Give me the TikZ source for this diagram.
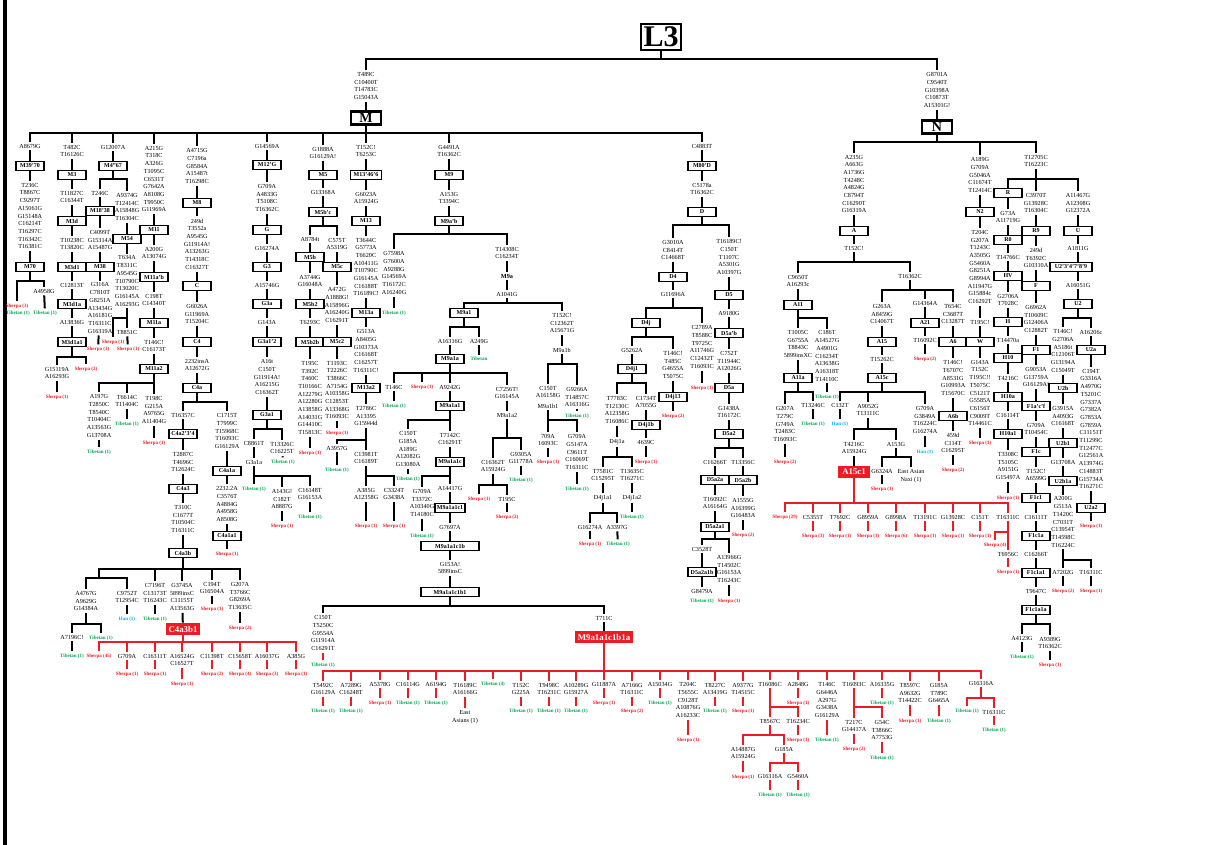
\documentclass[tikz,border=0pt]{standalone}
\usepackage{fontspec}
\setmainfont{Liberation Serif}
\usepackage{tikz}
\usepackage{xcolor}
\definecolor{sherpared}{HTML}{ED1C24}
\definecolor{tibgreen}{HTML}{00A651}
\definecolor{hanblue}{HTML}{00AEEF}
\definecolor{treered}{HTML}{ED1C24}
\tikzset{
  mut/.style={font=\fontsize{3.1}{3.85}\selectfont, align=center, inner sep=0.8pt},
  hg/.style={draw, line width=0.9pt, fill=white, font=\fontsize{3}{3.4}\selectfont\bfseries, minimum width=14pt, minimum height=4.5pt, inner sep=0.5pt},
  hgbig/.style={draw, line width=1.1pt, fill=white, font=\fontsize{7}{7}\selectfont\bfseries, minimum width=15pt, minimum height=6.5pt, inner sep=0.5pt},
  hgtop/.style={draw, line width=1.3pt, fill=white, font=\fontsize{15}{15}\selectfont\bfseries, minimum width=20pt, minimum height=13pt, inner sep=0.8pt},
  hgred/.style={draw=treered, line width=0.9pt, fill=treered, text=white, font=\fontsize{4.4}{4.6}\selectfont\bfseries, minimum width=15pt, minimum height=5.5pt, inner sep=0.6pt},
  pop/.style={font=\fontsize{2.5}{2.8}\selectfont\bfseries, inner sep=0.8pt},
  sherpa/.style={pop, text=sherpared},
  tibetan/.style={pop, text=tibgreen},
  han/.style={pop, text=hanblue},
  stem/.style={line width=1pt},
  rline/.style={draw=treered},
  rstem/.style={draw=treered, line width=1pt},
}
\begin{document}
\begin{tikzpicture}[x=0.5pt, y=-0.5pt, line width=0.7pt]
\useasboundingbox (0,0) rectangle (1215,845);
\draw[line width=1.8pt] (5,0) -- (5,845);

\node[hgtop] (L3) at (661,37) {L3};
\coordinate (bL3) at (0,59);
\node[mut] (mM) at (366,86) {T489C\\C10400T\\T14783C\\G15043A};
\node[hgbig] (M) at (366,118) {M};
\node[mut] (mN) at (937,90) {G8701A\\C9540T\\G10398A\\C10873T\\A15301G!};
\node[hgbig] (N) at (937,127) {N};
\foreach \ch in {mM,mN} \draw[stem] (L3) |- (\ch |- bL3) -- (\ch);
\draw (mM) -- (M);
\draw (mN) -- (N);

\coordinate (bM) at (0,133);
\node[mut] (m3970) at (30,146) {A8679G};
\node[hg] (M3970) at (30,166) {M39'70};
\node[mut] (m70) at (30,216) {T236C\\T8867C\\C9297T\\A15061G\\G15148A\\C16214T\\T16297C\\T16342C\\T16381C};
\node[hg] (M70) at (30,267) {M70};
\coordinate (bM70) at (0,281);
\node[sherpa] (s70) at (17,306) {Sherpa (3)};
\node[tibetan] (t70a) at (18,313) {Tibetan (1)};
\node[mut] (m70b) at (44,291) {A4958G};
\node[tibetan] (t70b) at (45,313) {Tibetan (1)};

\node[mut] (m3) at (72,151) {T482C\\T16126C};
\node[hg] (M3) at (72,175) {M3};
\node[mut] (m3d) at (72,197) {T11827C\\C16344T};
\node[hg] (M3d) at (72,221) {M3d};
\node[mut] (m3d1) at (72,244) {T10238C\\T13820C};
\node[hg] (M3d1) at (72,267) {M3d1};
\node[mut] (m3d1a) at (72,285) {C12813T};
\node[hg] (M3d1a) at (72,304) {M3d1a};
\node[mut] (m3d1a1) at (72,322) {A13836G};
\node[hg] (M3d1a1) at (72,342) {M3d1a1};
\coordinate (bM3d1a1) at (0,357);
\node[mut] (m3d1a1a) at (57,373) {G15119A\\A16293G};
\node[sherpa] (s3d1a1a) at (57,397) {Sherpa (1)};
\node[sherpa] (s3d1a1b) at (86,369) {Sherpa (2)};

\node[mut] (m467) at (113,147) {G12007A};
\node[hg] (M467) at (113,166) {M4"67};
\coordinate (bM467) at (0,179);
\node[mut] (m1838) at (100,193) {T246C};
\node[hg] (M1838) at (100,211) {M18'38};
\node[mut] (m38) at (100,240) {C4099T\\G15314A\\A15487G};
\node[hg] (M38) at (100,267) {M38};
\node[mut] (m38b) at (100,308) {G316A\\C7810T\\G8251A\\A13434G\\A16181G\\T16311C\\G16319A};
\node[sherpa] (s38) at (98,349) {Sherpa (1)};
\node[mut] (m54) at (127,207) {A9374G\\T12414C\\A15848G\\T16304C};
\node[hg] (M54) at (127,239) {M54};
\node[mut] (m54b) at (127,281) {T634A\\T8311C\\A9545G\\T10790C\\T13020C\\G16145A\\A16293G};
\coordinate (bM54) at (0,318);
\node[sherpa] (s54a) at (113,342) {Sherpa (1)};
\node[mut] (m54c) at (127,332) {T8851C};
\node[sherpa] (s54b) at (128,349) {Sherpa (1)};

\node[mut] (m11) at (154,179) {A215G\\T318C\\A326G\\T1095C\\C6531T\\G7642A\\A8108G\\T9950C\\G11969A};
\node[hg] (M11) at (154,230) {M11};
\node[mut] (m11ab) at (154,253) {A200G\\A13074G};
\node[hg] (M11ab) at (154,277) {M11a'b};
\node[mut] (m11a) at (154,300) {C198T\\C14340T};
\node[hg] (M11a) at (154,323) {M11a};
\node[mut] (m11a2) at (154,346) {T146C!\\C16173T};
\node[hg] (M11a2) at (154,369) {M11a2};
\coordinate (bM11a2) at (0,383);
\node[mut] (m11x) at (99,416) {A197G\\T2850C\\T8540C\\T10404C\\A13563G\\G13708A};
\node[tibetan] (t11x) at (99,452) {Tibetan (1)};
\node[mut] (m11y) at (127,401) {T6614C\\T11404C};
\node[tibetan] (t11y) at (127,424) {Tibetan (1)};
\node[mut] (m11z) at (154,410) {T198C\\G215A\\A9765G\\A11404G};
\node[sherpa] (s11z) at (154,443) {Sherpa (1)};

\node[mut] (m8) at (197,166) {A4715G\\C7196a\\G8584A\\A15487t\\T16298C};
\node[hg] (M8) at (197,203) {M8};
\node[mut] (mC) at (197,244) {249d\\T3552a\\A9545G\\G11914A!\\A13263G\\T14318C\\C16327T};
\node[hg] (C) at (197,286) {C};
\node[mut] (mC4) at (197,314) {G6026A\\G11969A\\T15204C};
\node[hg] (C4) at (197,342) {C4};
\node[mut] (mC4a) at (197,365) {2232insA\\A12672G};
\node[hg] (C4a) at (197,388) {C4a};
\coordinate (bC4a) at (0,402);
\node[mut] (mC4a2) at (183,415) {T16357C};
\node[hg] (C4a234) at (183,434) {C4a2'3'4};
\node[mut] (mC4a3) at (183,462) {T2887C\\T4696C\\T12624C};
\node[hg] (C4a3) at (183,489) {C4a3};
\node[mut] (mC4a3b) at (183,519) {T310C\\C1677T\\T10504C\\T16311C};
\node[hg] (C4a3b) at (183,553) {C4a3b};
\node[mut] (mC4a1a) at (227,431) {C1715T\\T7999C\\T15968C\\T16093C\\G16129A};
\node[hg] (C4a1a) at (227,471) {C4a1a};
\node[mut] (mC4a1a1) at (227,504) {2232.2A\\C3576T\\A4884G\\A4958G\\A8508G};
\node[hg] (C4a1a1) at (227,536) {C4a1a1};
\node[sherpa] (sC4a1a1) at (227,554) {Sherpa (1)};

\coordinate (bC4a3b) at (0,569);
\coordinate (kC4a3b) at (99,578);
\node[mut] (mA4767) at (86,601) {A4767G\\A9629G\\G14384A};
\node[mut] (mC9752) at (127,597) {C9752T\\T12954C};
\node[han] (hC9752) at (127,619) {Han (1)};
\node[mut] (mC7196) at (155,593) {C7196T\\C13173T\\T16243C};
\node[tibetan] (tC7196) at (155,619) {Tibetan (1)};
\node[mut] (mG3745) at (182,597) {G3745A\\5899insC\\C11155T\\A13563G};
\node[hgred] (C4a3b1) at (183,629) {C4a3b1};
\node[mut] (mC194) at (212,588) {C194T\\G16504A};
\node[sherpa] (sC194) at (212,609) {Sherpa (1)};
\node[mut] (mG207) at (240,596) {G207A\\T3766C\\G8269A\\T13635C};
\node[sherpa] (sG207) at (240,628) {Sherpa (2)};
\coordinate (bA4767) at (0,624);
\node[mut] (mA7196) at (72,637) {A7196C!};
\node[tibetan] (tA7196) at (72,656) {Tibetan (1)};
\node[tibetan] (tA4767) at (101,638) {Tibetan (1)};

\coordinate (bC4a3b1) at (0,642);
\node[sherpa] (cr1) at (99,656) {Sherpa (45)};
\node[mut] (cr2) at (127,656) {G709A};
\node[sherpa] (crs2) at (127,674) {Sherpa (1)};
\node[mut] (cr3) at (155,656) {C16311T};
\node[sherpa] (crs3) at (155,674) {Sherpa (1)};
\node[mut] (cr4) at (182,660) {A16524G\\C16527T};
\node[sherpa] (crs4) at (182,684) {Sherpa (1)};
\node[mut] (cr5) at (212,656) {C11398T};
\node[sherpa] (crs5) at (212,674) {Sherpa (2)};
\node[mut] (cr6) at (240,656) {C15658T};
\node[sherpa] (crs6) at (240,674) {Sherpa (4)};
\node[mut] (cr7) at (267,656) {A16037G};
\node[sherpa] (crs7) at (267,674) {Sherpa (3)};
\node[mut] (cr8) at (296,656) {A385G};
\node[sherpa] (crs8) at (296,674) {Sherpa (1)};

\node[mut] (mM12G) at (267,146) {G14569A};
\node[hg] (M12G) at (267,165) {M12'G};
\node[mut] (mG) at (267,198) {G709A\\A4833G\\T5108C\\T16362C};
\node[hg] (G) at (267,230) {G};
\node[mut] (mG3) at (267,248) {G16274A};
\node[hg] (G3) at (267,267) {G3};
\node[mut] (mG3a) at (267,285) {A15746G};
\node[hg] (G3a) at (267,304) {G3a};
\node[mut] (mG3a12) at (267,322) {G143A};
\node[hg] (G3a12) at (267,342) {G3a1'2};
\node[mut] (mG3a1) at (267,377) {A16t\\C150T\\G11914A!\\A16215G\\C16362T};
\node[hg] (G3a1) at (267,415) {G3a1};
\coordinate (bG3a1) at (0,429);
\node[mut] (mC8861) at (254,443) {C8861T};
\node[mut] (G3a1a) at (254,462) {G3a1a};
\node[mut] (mT13326) at (282,448) {T13326C\\C16225T};
\node[tibetan] (tT13326) at (283,462) {Tibetan (1)};
\coordinate (bG3a1a) at (0,476);
\node[tibetan] (tG3a1a) at (254,489) {Tibetan (1)};
\node[mut] (mA143) at (282,499) {A143G!\\C182T\\A8887G};
\node[sherpa] (sA143) at (282,526) {Sherpa (1)};
\node[mut] (mC16148) at (310,494) {C16148T\\G16153A};
\node[tibetan] (tC16148) at (310,517) {Tibetan (1)};

\node[mut] (mM5) at (323,153) {G1888A\\G16129A!};
\node[hg] (M5) at (323,175) {M5};
\node[mut] (mM5bc) at (323,192) {G13368A};
\node[hg] (M5bc) at (323,212) {M5b'c};
\coordinate (bM5bc) at (0,226);
\node[mut] (mM5b) at (310,239) {A8784t};
\node[hg] (M5b) at (310,257) {M5b};
\node[mut] (mM5b2) at (310,281) {A3744G\\G16048A};
\node[hg] (M5b2) at (310,304) {M5b2};
\node[mut] (mM5b2b) at (310,322) {T6293C};
\node[hg] (M5b2b) at (310,342) {M5b2b};
\node[mut] (mM5b2bx) at (310,398) {T195C\\T392C\\T460C\\T10166C\\A12279G\\A12280G\\A13858G\\A14031G\\G14410C\\T15813C};
\node[sherpa] (sM5b2b) at (310,453) {Sherpa (1)};
\node[mut] (mM5c) at (337,244) {C575T\\A5319G};
\node[hg] (M5c) at (337,267) {M5c};
\node[mut] (mM5c2) at (337,305) {A472G\\A1888G!\\A15896G\\A16240G\\C16291T};
\node[hg] (M5c2) at (337,342) {M5c2};
\node[mut] (mM5c2x) at (337,390) {T1193C\\T2226C\\T3866C\\A7154G\\A10358G\\C12853T\\A13368G\\T16093C};
\node[sherpa] (sM5c2) at (337,433) {Sherpa (1)};

\node[mut] (mM13) at (366,151) {T152C!\\T6253C};
\node[hg, minimum width=15.5pt] (M13466) at (366,175) {M13'46'6};
\node[mut] (mM13b) at (366,198) {G6023A\\A15924G};
\node[hg] (M13) at (366,221) {M13};
\node[mut] (mM13a) at (366,267) {T3644C\\G5773A\\T6620C\\A10411G\\T10790C\\G16145A\\C16188T\\T16189C!};
\node[hg] (M13a) at (366,313) {M13a};
\node[mut] (mM13a2) at (366,351) {G513A\\A8405G\\G10373A\\C16168T\\C16257T\\T16311C!};
\node[hg] (M13a2) at (366,388) {M13a2};
\node[mut] (mM13a2x) at (366,416) {T2786C\\A13395\\G15944d};
\coordinate (bM13a2) at (0,440);
\node[mut] (mA3957) at (337,448) {A3957G};
\node[tibetan] (tA3957) at (337,470) {Tibetan (1)};
\node[mut] (mC13981) at (366,458) {C13981T\\C16189T};
\coordinate (bC13981) at (0,476);
\node[mut] (mA385) at (366,494) {A385G\\A12358G};
\node[sherpa] (sA385) at (366,526) {Sherpa (1)};
\node[mut] (mC3324) at (394,494) {C3324T\\G3438A};
\node[sherpa] (sC3324) at (394,526) {Sherpa (1)};

\node[mut] (mM9) at (449,151) {G4491A\\T16362C};
\node[hg] (M9) at (449,175) {M9};
\node[mut] (mM9ab) at (449,198) {A153G\\T3394C};
\node[hg] (M9ab) at (449,221) {M9a'b};
\coordinate (bM9ab) at (0,234);
\node[mut] (mG7598) at (394,273) {G7598A\\G7600A\\A9288G\\G14569A\\T16172C\\A16240G};
\node[tibetan] (tG7598) at (394,313) {Tibetan (1)};
\node[mut] (mT14308) at (507,253) {T14308C\\C16234T};
\node[mut] (M9a) at (507,276) {\bfseries M9a};
\node[mut] (mA1041) at (507,294) {A1041G};
\coordinate (bM9a) at (0,303);
\node[hg] (M9a1) at (464,313) {M9a1};
\node[mut] (mT152b) at (562,323) {T152C!\\C12362T\\A15671G};
\coordinate (bM9a1) at (0,327);
\node[mut] (mA16316) at (450,341) {A16316G};
\node[mut] (mA249) at (479,341) {A249G};
\node[tibetan] (tA249) at (479,359) {Tibetan};
\node[hg] (M9a1a) at (450,359) {M9a1a};
\coordinate (bM9a1a) at (0,373);
\node[mut] (mT146m) at (394,387) {T146C};
\node[tibetan] (tT146m) at (394,406) {Tibetan (1)};
\node[sherpa] (sM9a1a) at (422,387) {Sherpa (1)};
\node[mut] (mA9242) at (450,387) {A9242G};
\node[mut] (mC7256) at (507,393) {C7256T!\\G16145A};
\node[hg] (M9a1a1) at (450,406) {M9a1a1};
\coordinate (bM9a1a1) at (0,420);
\node[mut] (mC150m) at (408,449) {C150T\\G185A\\A189G\\A12082G\\G13080A};
\node[tibetan] (tC150m) at (408,479) {Tibetan (1)};
\node[mut] (mT7142) at (450,439) {T7142C\\C16291T};
\node[hg] (M9a1a1c) at (450,462) {M9a1a1c};
\coordinate (bM9a1a1c) at (0,476);
\node[mut] (mG709m) at (422,503) {G709A\\T3372C\\A10340G\\T14180C};
\node[tibetan] (tG709m) at (422,536) {Tibetan (1)};
\node[mut] (mA14417) at (450,488) {A14417G};
\node[hg, minimum width=15pt] (M9a1a1c1) at (450,508) {M9a1a1c1};
\node[mut] (mG7697) at (450,527) {G7697A};
\node[hg, minimum width=29pt] (M9a1a1c1b) at (450,546) {M9a1a1c1b};
\node[mut] (mG153) at (450,568) {G153A!\\5899insC};
\node[hg, minimum width=29pt] (M9a1a1c1b1) at (450,592) {M9a1a1c1b1};
\node[mut] (M9a1a2) at (507,415) {M9a1a2};
\coordinate (bM9a1a2) at (0,438);
\node[mut] (mC16362m) at (493,466) {C16362T\\A15924G};
\node[mut] (mG9305) at (521,458) {G9305A\\G11778A};
\node[tibetan] (tG9305) at (521,480) {Tibetan (1)};
\coordinate (bC16362m) at (0,485);
\node[sherpa] (sC16362m) at (479,499) {Sherpa (1)};
\node[mut] (mT195m) at (507,499) {T195C};
\node[sherpa] (sT195m) at (507,517) {Sherpa (2)};
\node[mut] (M9a1b) at (562,350) {M9a1b};
\coordinate (bM9a1b) at (0,364);
\node[mut] (mC150b) at (548,392) {C150T\\A16158G};
\node[mut] (M9a1b1) at (548,406) {M9a1b1};
\node[mut] (mG9266) at (577,397) {G9266A\\T14857C\\A16316G};
\node[tibetan] (tG9266) at (577,416) {Tibetan (1)};
\coordinate (bM9a1b1) at (0,420);
\node[mut] (m709) at (548,440) {709A\\16093C};
\node[sherpa] (s709) at (548,462) {Sherpa (1)};
\node[mut] (mG709b) at (577,452) {G709A\\G5147A\\C9611T\\C16069T\\T16311C};
\node[tibetan] (tG709b) at (577,489) {Tibetan (1)};

\coordinate (bM9b1) at (0,606);
\node[mut] (mC150c) at (323,633) {C150T\\T5250C\\G9554A\\G11914A\\C16291T};
\node[tibetan] (tC150c) at (323,665) {Tibetan (1)};
\node[mut] (mT711) at (604,618) {T711C};
\node[hgred, minimum width=28pt] (M9red) at (604,637) {M9a1a1c1b1a};
\coordinate (bRed) at (0,671);
\node[mut] (q1) at (323,689) {T5492C\\G16129A};
\node[tibetan] (qp1) at (323,711) {Tibetan (1)};
\node[mut] (q2) at (351,689) {A7289G\\C16248T};
\node[tibetan] (qp2) at (351,711) {Tibetan (1)};
\node[mut] (q3) at (380,684) {A5378G};
\node[sherpa] (qp3) at (380,703) {Sherpa (1)};
\node[mut] (q4) at (408,684) {C16114G};
\node[tibetan] (qp4) at (408,703) {Tibetan (1)};
\node[mut] (q5) at (436,684) {A6194G};
\node[tibetan] (qp5) at (436,703) {Tibetan (1)};
\node[mut] (q6) at (465,689) {T16189C\\A16166G};
\node[mut] (qp6) at (465,717) {East\\Asians (1)};
\node[tibetan] (q7) at (493,684) {Tibetan (4)};
\node[mut] (q8) at (521,689) {T152C\\G225A};
\node[tibetan] (qp8) at (521,711) {Tibetan (1)};
\node[mut] (q9) at (549,689) {T9498C\\T16231C};
\node[tibetan] (qp9) at (549,711) {Tibetan (1)};
\node[mut] (q10) at (576,689) {A10289G\\G15927A};
\node[tibetan] (qp10) at (576,711) {Tibetan (1)};
\node[mut] (q11) at (604,684) {G11887A};
\node[sherpa] (qp11) at (604,703) {Sherpa (1)};
\node[mut] (q12) at (632,689) {A7166G\\T16311C};
\node[sherpa] (qp12) at (632,711) {Sherpa (2)};
\node[mut] (q13) at (660,684) {A15034G};
\node[tibetan] (qp13) at (660,703) {Tibetan (1)};
\node[mut] (q14) at (688,700) {T204C\\T5655C\\C9128T\\A10876G\\A16233C};
\node[sherpa] (qp14) at (688,740) {Sherpa (1)};
\node[mut] (q15) at (715,689) {T8227C\\A13419G};
\node[tibetan] (qp15) at (715,711) {Tibetan (1)};
\node[mut] (q16) at (743,689) {A9377G\\T14515C};
\node[sherpa] (qp16) at (743,711) {Sherpa (1)};
\node[mut] (q17) at (770,684) {T16086C};
\node[mut] (q18) at (798,684) {A2848G};
\node[sherpa] (qp18) at (798,703) {Sherpa (1)};
\node[mut] (q19) at (827,700) {T146C\\G6446A\\A297G\\G3438A\\G16129A};
\node[tibetan] (qp19) at (827,740) {Tibetan (1)};
\node[mut] (q20) at (854,684) {T16093C};
\node[mut] (q21) at (882,684) {A16335G};
\node[tibetan] (qp21) at (882,703) {Tibetan (1)};
\node[mut] (q22) at (910,693) {T8597C\\A9632G\\T14422C};
\node[sherpa] (qp22) at (910,721) {Sherpa (1)};
\node[mut] (q23) at (939,693) {G185A\\T789C\\G6465A};
\node[tibetan] (qp23) at (939,721) {Tibetan (1)};
\node[mut] (q24) at (981,683) {G16316A};
\coordinate (bq17) at (0,707);
\node[mut] (q17a) at (770,721) {T8567C};
\node[mut] (q17b) at (798,721) {T16234C};
\node[sherpa] (q17bp) at (798,740) {Sherpa (1)};
\coordinate (bq17a) at (0,735);
\node[mut] (q17c) at (743,753) {A14887G\\A15924G};
\node[sherpa] (q17cp) at (743,777) {Sherpa (1)};
\node[mut] (q17d) at (784,749) {G185A};
\coordinate (bq17d) at (0,763);
\node[mut] (q17e) at (770,776) {G16316A};
\node[tibetan] (q17ep) at (770,795) {Tibetan (1)};
\node[mut] (q17f) at (798,776) {G5460A};
\node[tibetan] (q17fp) at (798,795) {Tibetan (1)};
\coordinate (bq20) at (0,707);
\node[mut] (q20a) at (854,726) {T217C\\G14417A};
\node[sherpa] (q20ap) at (854,749) {Sherpa (2)};
\node[mut] (q20b) at (882,730) {G54C\\T3866C\\A7753G};
\node[tibetan] (q20bp) at (882,758) {Tibetan (1)};
\coordinate (bq24) at (0,698);
\node[tibetan] (q24a) at (967,711) {Tibetan (1)};
\node[mut] (q24b) at (994,712) {T16311C};
\node[tibetan] (q24bp) at (994,730) {Tibetan (1)};

\node[mut] (mD1) at (702,146) {C4883T};
\node[hg] (M80D) at (702,166) {M80'D};
\node[mut] (mD) at (702,189) {C5178a\\T16362C};
\node[hg] (D) at (702,212) {D};
\coordinate (bD) at (0,225);
\node[mut] (mG3010) at (673,250) {G3010A\\C8414T\\C14668T};
\node[hg] (D4) at (673,277) {D4};
\node[mut] (mG11696) at (673,294) {G11696A};
\coordinate (bD4) at (0,308);
\node[hg] (D4j) at (646,323) {D4j};
\node[mut] (mC2789) at (702,347) {C2789A\\T8588C\\T9725C\\A11746G\\C12432T\\T16093C};
\node[sherpa] (sC2789) at (702,388) {Sherpa (1)};
\coordinate (bD4j) at (0,337);
\node[mut] (mG5262) at (632,350) {G5262A};
\node[hg] (D4j1) at (632,369) {D4j1};
\node[mut] (mT146d) at (673,365) {T146C!\\T485C\\G4655A\\T5075C};
\node[hg] (D4j13) at (673,397) {D4j13};
\node[sherpa] (sD4j13) at (673,416) {Sherpa (2)};
\coordinate (bD4j1) at (0,383);
\node[mut] (mT7783) at (617,410) {T7783C\\T12130C\\A12358G\\T16086C};
\node[mut] (D4j1a) at (617,442) {D4j1a};
\node[mut] (mC1734) at (646,402) {C1734T\\A7055G};
\node[hg] (D4j1b) at (646,425) {D4j1b};
\node[mut] (m4639) at (646,442) {4639C};
\node[sherpa] (s4639) at (646,462) {Sherpa (1)};
\coordinate (bD4j1a) at (0,457);
\node[mut] (mT7581) at (603,475) {T7581C\\C15295T};
\node[mut] (D4j1a1) at (603,498) {D4j1a1};
\node[mut] (mT13635) at (632,475) {T13635C\\T16271C};
\node[mut] (D4j1a2) at (632,498) {D4j1a2};
\node[tibetan] (tD4j1a2) at (632,517) {Tibetan (1)};
\coordinate (bD4j1a1) at (0,513);
\node[mut] (mG16274d) at (590,527) {G16274A};
\node[sherpa] (sG16274d) at (590,544) {Sherpa (1)};
\node[mut] (mA3397) at (617,527) {A3397G};
\node[tibetan] (tA3397) at (618,544) {Tibetan (1)};
\node[mut] (mT16189) at (729,257) {T16189C!\\C150T\\T1107C\\A5301G\\A10397G};
\node[hg] (D5) at (729,295) {D5};
\node[mut] (mA9180) at (729,313) {A9180G};
\node[hg] (D5ab) at (729,333) {D5a'b};
\node[mut] (mC752) at (729,361) {C752T\\T11944C\\A12026G};
\node[hg] (D5a) at (729,388) {D5a};
\node[mut] (mG1438) at (729,412) {G1438A\\T16172C};
\node[hg] (D5a2) at (729,434) {D5a2};
\coordinate (bD5a2) at (0,448);
\node[mut] (mC16266d) at (715,462) {C16266T};
\node[hg] (D5a2a) at (715,480) {D5a2a};
\node[mut] (mT16092d) at (715,503) {T16092C\\A16164G};
\node[hg] (D5a2a1) at (715,527) {D5a2a1};
\coordinate (bD5a2a1) at (0,539);
\node[mut] (mC3528) at (702,549) {C3528T};
\node[hg] (D5a2a1b) at (702,572) {D5a2a1b};
\node[mut] (mG8479) at (702,591) {G8479A};
\node[tibetan] (tG8479) at (702,601) {Tibetan (1)};
\node[mut] (mA13966) at (729,569) {A13966G\\T14502C\\G16153A\\T16243C};
\node[sherpa] (sA13966) at (729,601) {Sherpa (1)};
\node[mut] (mT13356) at (743,462) {T13356C};
\node[hg] (D5a2b) at (743,480) {D5a2b};
\node[mut] (mA1555) at (743,508) {A1555G\\A16399G\\G16483A};
\node[sherpa] (sA1555) at (743,535) {Sherpa (2)};

\coordinate (bN) at (0,142);
\node[mut] (mA) at (854,184) {A235G\\A663G\\A1736G\\T4248C\\A4824G\\C8794T\\C16290T\\G16319A};
\node[hg] (A) at (854,231) {A};
\node[mut] (mT152A) at (854,248) {T152C!};
\coordinate (bA) at (0,262);
\node[mut] (mC9650) at (798,281) {C9650T\\A16293c};
\node[hg] (A11) at (798,305) {A11};
\coordinate (bA11) at (0,318);
\node[mut] (mT1005) at (798,344) {T1005C\\G6755A\\T8843C\\5899insXC};
\node[hg] (A11a) at (798,378) {A11a};
\coordinate (bA11a) at (0,392);
\node[mut] (mG207A) at (785,424) {G207A\\T279C\\G749A\\T2483C\\T16093C};
\node[sherpa] (sG207A) at (785,462) {Sherpa (2)};
\node[mut] (mT13246) at (813,405) {T13246C};
\node[tibetan] (tT13246) at (813,424) {Tibetan (1)};
\node[mut] (mC186) at (827,356) {C186T\\A14527G\\A4901G\\C16234T\\A13638G\\A16318T\\T14110C};
\node[tibetan] (tC186) at (827,397) {Tibetan (1)};
\node[mut] (mT16362A) at (910,276) {T16362C};
\coordinate (bT16362A) at (0,290);
\node[mut] (mG263) at (882,314) {G263A\\A8459G\\C14067T};
\node[hg] (A15) at (882,342) {A15};
\node[mut] (mT15262) at (882,359) {T15262C};
\node[hg] (A15c) at (882,378) {A15c};
\coordinate (bA15c) at (0,392);
\node[mut] (mC132) at (840,405) {C132T};
\node[han] (hC132) at (840,424) {Han (1)};
\node[mut] (mA9052) at (868,410) {A9052G\\T13111C};
\coordinate (bA9052) at (0,429);
\node[mut] (mT4216A) at (854,448) {T4216C\\A15924G};
\node[hgred] (A15c1) at (854,472) {A15c1};
\node[mut] (mA153A) at (896,444) {A153G};
\coordinate (bA153A) at (0,457);
\node[mut] (mG6324) at (882,471) {G6324A};
\node[sherpa] (sG6324) at (882,489) {Sherpa (1)};
\node[mut] (mEast) at (911,476) {East Asian\\Naxi (1)};
\node[mut] (mG709A) at (925,420) {G709A\\G3849A\\T16224C\\G16274A};
\node[han] (hG709A) at (925,452) {Han (1)};
\node[mut] (mG14364) at (925,303) {G14364A};
\node[hg] (A21) at (925,323) {A21};
\node[mut] (mT16092A) at (925,340) {T16092C};
\node[sherpa] (sT16092A) at (925,359) {Sherpa (2)};
\node[mut] (mT654) at (953,314) {T654C\\C3687T\\C13287T};
\node[hg] (A6) at (953,342) {A6};
\node[mut] (mT146A) at (953,378) {T146C!\\T6707C\\A8531G\\G10993A\\T15670C};
\node[hg] (A6b) at (953,416) {A6b};
\node[mut] (m459) at (953,443) {459d\\C114T\\C16295T};
\node[sherpa] (s459) at (953,470) {Sherpa (2)};

\coordinate (bA15c1) at (0,503);
\node[sherpa] (ar1) at (785,517) {Sherpa (29)};
\node[mut] (ar2) at (813,517) {C5355T};
\node[sherpa] (ars2) at (813,536) {Sherpa (3)};
\node[mut] (ar3) at (840,517) {T7692C};
\node[sherpa] (ars3) at (840,536) {Sherpa (1)};
\node[mut] (ar4) at (868,517) {G8959A};
\node[sherpa] (ars4) at (868,536) {Sherpa (1)};
\node[mut] (ar5) at (896,517) {G8998A};
\node[sherpa] (ars5) at (896,536) {Sherpa (6)};
\node[mut] (ar6) at (925,517) {T13191C};
\node[sherpa] (ars6) at (925,536) {Sherpa (1)};
\node[mut] (ar7) at (953,517) {G13928C};
\node[sherpa] (ars7) at (953,536) {Sherpa (1)};
\node[mut] (ar8) at (980,517) {C151T};
\node[sherpa] (ars8) at (980,536) {Sherpa (1)};
\node[mut] (ar9) at (1008,517) {T16311C};
\coordinate (bar9) at (0,532);
\node[sherpa] (ar9s) at (995,545) {Sherpa (4)};
\node[mut] (ar9b) at (1008,554) {T6956C};
\node[sherpa] (ar9c) at (1008,572) {Sherpa (1)};

\node[mut] (mA189) at (980,175) {A189G\\G709A\\G5046A\\C11674T\\T12414C};
\node[hg] (N2) at (980,212) {N2};
\node[mut] (mT204) at (980,267) {T204C\\G207A\\T1243C\\A3505G\\G5460A\\G8251A\\G8994A\\A11947G\\G15884c\\C16292T};
\node[mut] (mT195W) at (980,322) {T195C!};
\node[hg] (W) at (980,342) {W};
\node[mut] (mG143W) at (980,393) {G143A\\T152C\\T195C!!\\T5075C\\C5121T\\G5585A\\C6156T\\C9009T\\T14461C};
\node[sherpa] (sG143W) at (980,443) {Sherpa (1)};

\node[mut] (mT12705) at (1036,161) {T12705C\\T16223C};
\coordinate (bR) at (0,179);
\node[hg] (R) at (1008,193) {R};
\node[mut] (mG73) at (1008,217) {G73A\\A11719G};
\node[hg] (R0) at (1008,240) {R0};
\node[mut] (mT14766) at (1008,257) {T14766C};
\node[hg] (HV) at (1008,276) {HV};
\node[mut] (mG2706H) at (1008,300) {G2706A\\T7028C};
\node[hg] (H) at (1008,322) {H};
\node[mut] (mT14470) at (1008,340) {T14470a};
\node[hg] (H10) at (1008,358) {H10};
\node[mut] (mT4216H) at (1008,378) {T4216C};
\node[hg] (H10a) at (1008,397) {H10a};
\node[mut] (mC16114) at (1008,415) {C16114T};
\node[hg] (H10a1) at (1008,434) {H10a1};
\node[mut] (mT3308) at (1008,466) {T3308C\\T5105C\\A9151G\\G15497A};
\node[sherpa] (sT3308) at (1008,498) {Sherpa (1)};
\node[mut] (mC3970) at (1036,203) {C3970T\\G13928C\\T16304C};
\node[hg] (R9) at (1036,231) {R9};
\node[mut] (m249F) at (1036,258) {249d\\T6392C\\G10310A};
\node[hg] (F) at (1036,286) {F};
\node[mut] (mG6962) at (1036,319) {G6962A\\T10609C\\G12406A\\C12882T};
\node[hg] (F1) at (1036,350) {F1};
\node[mut] (mG9053) at (1036,377) {G9053A\\G13759A\\G16129A!};
\node[hg] (F1acf) at (1036,406) {F1a'c'f};
\node[mut] (mG709F) at (1036,429) {G709A\\T10454C};
\node[hg] (F1c) at (1036,452) {F1c};
\node[mut] (mT152F) at (1036,475) {T152C!\\A6599G};
\node[hg] (F1c1) at (1036,498) {F1c1};
\node[mut] (mC16111) at (1036,517) {C16111T};
\node[hg] (F1c1a) at (1036,536) {F1c1a};
\node[mut] (mC16266F) at (1036,554) {C16266T};
\node[hg] (F1c1a1) at (1036,573) {F1c1a1};
\node[mut] (mT9647) at (1036,591) {T9647C};
\node[hg] (F1c1a1a) at (1036,610) {F1c1a1a};
\coordinate (bF1c1a1a) at (0,624);
\node[mut] (mA4123) at (1022,638) {A4123G};
\node[tibetan] (tA4123) at (1022,657) {Tibetan (1)};
\node[mut] (mA9389) at (1050,643) {A9389G\\T16362C};
\node[sherpa] (sA9389) at (1050,665) {Sherpa (1)};
\node[mut] (mA11467) at (1078,203) {A11467G\\A12308G\\G12372A};
\node[hg] (U) at (1078,231) {U};
\node[mut] (mA1811) at (1078,248) {A1811G};
\node[hg, minimum width=21pt] (U234789) at (1071,267) {U2'3'4'7'8'9};
\node[mut] (mA16051) at (1078,285) {A16051G};
\node[hg] (U2) at (1078,304) {U2};
\coordinate (bU2) at (0,318);
\node[mut] (mT146U) at (1063,351) {T146C!\\G2706A\\A5186t\\C12106T\\G13194A\\C15049T};
\node[hg] (U2b) at (1063,388) {U2b};
\node[mut] (mG3915) at (1063,416) {G3915A\\A4093G\\C16168T};
\node[hg] (U2b1) at (1063,443) {U2b1};
\node[mut] (mG13708U) at (1063,462) {G13708A};
\node[hg] (U2b1a) at (1063,481) {U2b1a};
\node[mut] (mA200U) at (1063,522) {A200G\\G513A\\T1420C\\C7031T\\C13954T\\T14598C\\T16224C};
\coordinate (bA200U) at (0,560);
\node[mut] (mA7202) at (1063,572) {A7202G};
\node[sherpa] (sA7202) at (1063,591) {Sherpa (2)};
\node[mut] (mT16311U) at (1091,572) {T16311C};
\node[sherpa] (sT16311U) at (1091,591) {Sherpa (1)};
\node[mut] (mA16206) at (1091,332) {A16206c};
\node[hg] (U2a) at (1091,350) {U2a};
\node[mut] (mC194U) at (1091,429) {C194T\\G3316A\\A4970G\\T5201C\\G7337A\\G7382A\\G7853A\\G7859A\\C11151T\\T11299C\\T12477C\\G12561A\\A13974G\\C14883T\\G15734A\\T16271C};
\node[hg] (U2a2) at (1091,508) {U2a2};
\node[sherpa] (sU2a2) at (1091,526) {Sherpa (1)};

\foreach \ch in {m3970,m3,m467,m11,m8,mM12G,mM5,mM13,mM9,mD1} \draw (M) |- (\ch |- bM) -- (\ch);
\draw (m3970) -- (M3970) -- (m70) -- (M70);
\foreach \ch in {s70,m70b} \draw (M70) |- (\ch |- bM70) -- (\ch);
\draw[stem] (m70b) -- (t70b);
\draw (m3) -- (M3) -- (m3d) -- (M3d) -- (m3d1) -- (M3d1) -- (m3d1a) -- (M3d1a) -- (m3d1a1) -- (M3d1a1);
\foreach \ch in {m3d1a1a,s3d1a1b} \draw (M3d1a1) |- (\ch |- bM3d1a1) -- (\ch);
\draw[stem] (m3d1a1a) -- (s3d1a1a);
\draw (m467) -- (M467);
\foreach \ch in {m1838,m54} \draw (M467) |- (\ch |- bM467) -- (\ch);
\draw (m1838) -- (M1838) -- (m38) -- (M38) -- (m38b);
\draw[stem] (m38b) -- (s38);
\draw (m54) -- (M54) -- (m54b) -- (m54c);
\draw (m54b) |- (s54a |- bM54) -- (s54a);
\draw[stem] (m54c) -- (s54b);
\draw (m11) -- (M11) -- (m11ab) -- (M11ab) -- (m11a) -- (M11a) -- (m11a2) -- (M11a2);
\foreach \ch in {m11x,m11y,m11z} \draw (M11a2) |- (\ch |- bM11a2) -- (\ch);
\draw[stem] (m11x) -- (t11x);
\draw[stem] (m11y) -- (t11y);
\draw[stem] (m11z) -- (s11z);
\draw (m8) -- (M8) -- (mC) -- (C) -- (mC4) -- (C4) -- (mC4a) -- (C4a);
\foreach \ch in {mC4a2,mC4a1a} \draw (C4a) |- (\ch |- bC4a) -- (\ch);
\draw (mC4a2) -- (C4a234) -- (mC4a3) -- (C4a3) -- (mC4a3b) -- (C4a3b);
\draw (mC4a1a) -- (C4a1a) -- (mC4a1a1) -- (C4a1a1);
\draw[stem] (C4a1a1) -- (sC4a1a1);
\foreach \ch in {kC4a3b,mC7196,mG3745,mC194,mG207} \draw (C4a3b) |- (\ch |- bC4a3b) -- (\ch);
\foreach \ch in {mA4767,mC9752} \draw (kC4a3b) -| (\ch);
\foreach \ch in {mA7196,tA4767} \draw (mA4767) |- (\ch |- bA4767) -- (\ch);
\draw[stem] (mA7196) -- (tA7196);
\draw[stem] (mC9752) -- (hC9752);
\draw[stem] (mC7196) -- (tC7196);
\draw[stem] (mG3745) -- (C4a3b1);
\draw[stem] (mC194) -- (sC194);
\draw[stem] (mG207) -- (sG207);
\foreach \i in {1,...,8} \draw[rline] (C4a3b1) |- (cr\i |- bC4a3b1) -- (cr\i);
\foreach \i in {2,...,8} \draw[rstem] (cr\i) -- (crs\i);
\draw (mM12G) -- (M12G) -- (mG) -- (G) -- (mG3) -- (G3) -- (mG3a) -- (G3a) -- (mG3a12) -- (G3a12) -- (mG3a1) -- (G3a1);
\foreach \ch in {mC8861,mT13326} \draw (G3a1) |- (\ch |- bG3a1) -- (\ch);
\draw (mC8861) -- (G3a1a);
\draw[stem] (mT13326) -- (tT13326);
\foreach \ch in {tG3a1a,mA143,mC16148} \draw (G3a1a) |- (\ch |- bG3a1a) -- (\ch);
\draw[stem] (mA143) -- (sA143);
\draw[stem] (mC16148) -- (tC16148);
\draw (mM5) -- (M5) -- (mM5bc) -- (M5bc);
\foreach \ch in {mM5b,mM5c} \draw (M5bc) |- (\ch |- bM5bc) -- (\ch);
\draw (mM5b) -- (M5b) -- (mM5b2) -- (M5b2) -- (mM5b2b) -- (M5b2b) -- (mM5b2bx);
\draw[stem] (mM5b2bx) -- (sM5b2b);
\draw (mM5c) -- (M5c) -- (mM5c2) -- (M5c2) -- (mM5c2x);
\draw[stem] (mM5c2x) -- (sM5c2);
\draw (mM13) -- (M13466) -- (mM13b) -- (M13) -- (mM13a) -- (M13a) -- (mM13a2) -- (M13a2) -- (mM13a2x);
\foreach \ch in {mA3957,mC13981} \draw (mM13a2x) |- (\ch |- bM13a2) -- (\ch);
\draw[stem] (mA3957) -- (tA3957);
\foreach \ch in {mA385,mC3324} \draw (mC13981) |- (\ch |- bC13981) -- (\ch);
\draw[stem] (mA385) -- (sA385);
\draw[stem] (mC3324) -- (sC3324);
\draw (mM9) -- (M9) -- (mM9ab) -- (M9ab);
\foreach \ch in {mG7598,mT14308} \draw (M9ab) |- (\ch |- bM9ab) -- (\ch);
\draw[stem] (mG7598) -- (tG7598);
\draw (mT14308) -- (M9a) -- (mA1041);
\foreach \ch in {M9a1,mT152b} \draw (mA1041) |- (\ch |- bM9a) -- (\ch);
\foreach \ch in {mA16316,mA249} \draw (M9a1) |- (\ch |- bM9a1) -- (\ch);
\draw[stem] (mA249) -- (tA249);
\draw (mA16316) -- (M9a1a);
\foreach \ch in {mT146m,sM9a1a,mA9242,mC7256} \draw (M9a1a) |- (\ch |- bM9a1a) -- (\ch);
\draw[stem] (mT146m) -- (tT146m);
\draw (mA9242) -- (M9a1a1);
\foreach \ch in {mC150m,mT7142} \draw (M9a1a1) |- (\ch |- bM9a1a1) -- (\ch);
\draw[stem] (mC150m) -- (tC150m);
\draw (mT7142) -- (M9a1a1c);
\foreach \ch in {mG709m,mA14417} \draw (M9a1a1c) |- (\ch |- bM9a1a1c) -- (\ch);
\draw[stem] (mG709m) -- (tG709m);
\draw (mA14417) -- (M9a1a1c1) -- (mG7697) -- (M9a1a1c1b) -- (mG153) -- (M9a1a1c1b1);
\draw (mC7256) -- (M9a1a2);
\foreach \ch in {mC16362m,mG9305} \draw (M9a1a2) |- (\ch |- bM9a1a2) -- (\ch);
\draw[stem] (mG9305) -- (tG9305);
\foreach \ch in {sC16362m,mT195m} \draw (mC16362m) |- (\ch |- bC16362m) -- (\ch);
\draw[stem] (mT195m) -- (sT195m);
\draw (mT152b) -- (M9a1b);
\foreach \ch in {mC150b,mG9266} \draw (M9a1b) |- (\ch |- bM9a1b) -- (\ch);
\draw[stem] (mG9266) -- (tG9266);
\foreach \ch in {m709,mG709b} \draw (M9a1b1) |- (\ch |- bM9a1b1) -- (\ch);
\draw[stem] (m709) -- (s709);
\draw[stem] (mG709b) -- (tG709b);
\foreach \ch in {mC150c,mT711} \draw (M9a1a1c1b1) |- (\ch |- bM9b1) -- (\ch);
\draw[rstem] (mC150c) -- (tC150c);
\draw (mT711) -- (M9red);
\foreach \i in {1,...,24} \draw[rline] (M9red) |- (q\i |- bRed) -- (q\i);
\foreach \a/\b in {q1/qp1,q2/qp2,q3/qp3,q4/qp4,q5/qp5,q6/qp6,q8/qp8,q9/qp9,q10/qp10,q11/qp11,q12/qp12,q13/qp13,q14/qp14,q15/qp15,q16/qp16,q18/qp18,q19/qp19,q21/qp21,q22/qp22,q23/qp23} \draw[rstem] (\a) -- (\b);
\foreach \ch in {q17a,q17b} \draw[rline] (q17) |- (\ch |- bq17) -- (\ch);
\draw[rstem] (q17b) -- (q17bp);
\foreach \ch in {q17c,q17d} \draw[rline] (q17a) |- (\ch |- bq17a) -- (\ch);
\draw[rstem] (q17c) -- (q17cp);
\foreach \ch in {q17e,q17f} \draw[rline] (q17d) |- (\ch |- bq17d) -- (\ch);
\draw[rstem] (q17e) -- (q17ep);
\draw[rstem] (q17f) -- (q17fp);
\foreach \ch in {q20a,q20b} \draw[rline] (q20) |- (\ch |- bq20) -- (\ch);
\draw[rstem] (q20a) -- (q20ap);
\draw[rstem] (q20b) -- (q20bp);
\foreach \ch in {q24a,q24b} \draw[rline] (q24) |- (\ch |- bq24) -- (\ch);
\draw[rstem] (q24b) -- (q24bp);
\draw (mD1) -- (M80D) -- (mD) -- (D);
\foreach \ch in {mG3010,mT16189} \draw (D) |- (\ch |- bD) -- (\ch);
\draw (mG3010) -- (D4) -- (mG11696);
\foreach \ch in {D4j,mC2789} \draw (mG11696) |- (\ch |- bD4) -- (\ch);
\draw[stem] (mC2789) -- (sC2789);
\foreach \ch in {mG5262,mT146d} \draw (D4j) |- (\ch |- bD4j) -- (\ch);
\draw (mT146d) -- (D4j13);
\draw[stem] (D4j13) -- (sD4j13);
\draw (mG5262) -- (D4j1);
\foreach \ch in {mT7783,mC1734} \draw (D4j1) |- (\ch |- bD4j1) -- (\ch);
\draw (mC1734) -- (D4j1b) -- (m4639);
\draw[stem] (m4639) -- (s4639);
\draw (mT7783) -- (D4j1a);
\foreach \ch in {mT7581,mT13635} \draw (D4j1a) |- (\ch |- bD4j1a) -- (\ch);
\draw (mT7581) -- (D4j1a1);
\draw (mT13635) -- (D4j1a2);
\draw[stem] (D4j1a2) -- (tD4j1a2);
\foreach \ch in {mG16274d,mA3397} \draw (D4j1a1) |- (\ch |- bD4j1a1) -- (\ch);
\draw[stem] (mG16274d) -- (sG16274d);
\draw[stem] (mA3397) -- (tA3397);
\draw (mT16189) -- (D5) -- (mA9180) -- (D5ab) -- (mC752) -- (D5a) -- (mG1438) -- (D5a2);
\foreach \ch in {mC16266d,mT13356} \draw (D5a2) |- (\ch |- bD5a2) -- (\ch);
\draw (mC16266d) -- (D5a2a) -- (mT16092d) -- (D5a2a1);
\foreach \ch in {mC3528,mA13966} \draw (D5a2a1) |- (\ch |- bD5a2a1) -- (\ch);
\draw (mC3528) -- (D5a2a1b) -- (mG8479);
\draw[stem] (mA13966) -- (sA13966);
\draw (mT13356) -- (D5a2b) -- (mA1555);
\draw[stem] (mA1555) -- (sA1555);
\foreach \ch in {mA,mA189,mT12705} \draw (N) |- (\ch |- bN) -- (\ch);
\draw (mA) -- (A) -- (mT152A);
\foreach \ch in {mC9650,mT16362A} \draw (mT152A) |- (\ch |- bA) -- (\ch);
\draw (mC9650) -- (A11);
\foreach \ch in {mT1005,mC186} \draw (A11) |- (\ch |- bA11) -- (\ch);
\draw[stem] (mC186) -- (tC186);
\draw (mT1005) -- (A11a);
\foreach \ch in {mG207A,mT13246} \draw (A11a) |- (\ch |- bA11a) -- (\ch);
\draw[stem] (mG207A) -- (sG207A);
\draw[stem] (mT13246) -- (tT13246);
\foreach \ch in {mG263,mG14364,mT654} \draw (mT16362A) |- (\ch |- bT16362A) -- (\ch);
\draw (mG263) -- (A15) -- (mT15262) -- (A15c);
\foreach \ch in {mC132,mA9052,mG709A} \draw (A15c) |- (\ch |- bA15c) -- (\ch);
\draw[stem] (mC132) -- (hC132);
\draw[stem] (mG709A) -- (hG709A);
\foreach \ch in {mT4216A,mA153A} \draw (mA9052) |- (\ch |- bA9052) -- (\ch);
\draw (mT4216A) -- (A15c1);
\foreach \ch in {mG6324,mEast} \draw (mA153A) |- (\ch |- bA153A) -- (\ch);
\draw[stem] (mG6324) -- (sG6324);
\draw (mG14364) -- (A21) -- (mT16092A);
\draw[stem] (mT16092A) -- (sT16092A);
\draw (mT654) -- (A6) -- (mT146A) -- (A6b) -- (m459);
\draw[stem] (m459) -- (s459);
\foreach \i in {1,...,9} \draw[rline] (A15c1) |- (ar\i |- bA15c1) -- (ar\i);
\foreach \i in {2,...,8} \draw[rstem] (ar\i) -- (ars\i);
\foreach \ch in {ar9s,ar9b} \draw[rline] (ar9) |- (\ch |- bar9) -- (\ch);
\draw[rstem] (ar9b) -- (ar9c);
\draw (mA189) -- (N2) -- (mT204) -- (mT195W) -- (W) -- (mG143W);
\draw[stem] (mG143W) -- (sG143W);
\foreach \ch in {R,mC3970,mA11467} \draw (mT12705) |- (\ch |- bR) -- (\ch);
\draw (R) -- (mG73) -- (R0) -- (mT14766) -- (HV) -- (mG2706H) -- (H) -- (mT14470) -- (H10) -- (mT4216H) -- (H10a) -- (mC16114) -- (H10a1) -- (mT3308);
\draw[stem] (mT3308) -- (sT3308);
\draw (mC3970) -- (R9) -- (m249F) -- (F) -- (mG6962) -- (F1) -- (mG9053) -- (F1acf) -- (mG709F) -- (F1c) -- (mT152F) -- (F1c1) -- (mC16111) -- (F1c1a) -- (mC16266F) -- (F1c1a1) -- (mT9647) -- (F1c1a1a);
\foreach \ch in {mA4123,mA9389} \draw (F1c1a1a) |- (\ch |- bF1c1a1a) -- (\ch);
\draw[stem] (mA4123) -- (tA4123);
\draw[stem] (mA9389) -- (sA9389);
\draw (mA11467) -- (U) -- (mA1811);
\draw (mA1811) -- (mA1811 |- U234789.north);
\draw (U234789.south -| mA16051) -- (mA16051) -- (U2);
\foreach \ch in {mT146U,mA16206} \draw (U2) |- (\ch |- bU2) -- (\ch);
\draw (mT146U) -- (U2b) -- (mG3915) -- (U2b1) -- (mG13708U) -- (U2b1a) -- (mA200U);
\foreach \ch in {mA7202,mT16311U} \draw (mA200U) |- (\ch |- bA200U) -- (\ch);
\draw[stem] (mA7202) -- (sA7202);
\draw[stem] (mT16311U) -- (sT16311U);
\draw (mA16206) -- (U2a) -- (mC194U) -- (U2a2);
\draw[stem] (U2a2) -- (sU2a2);
\end{tikzpicture}
\end{document}
